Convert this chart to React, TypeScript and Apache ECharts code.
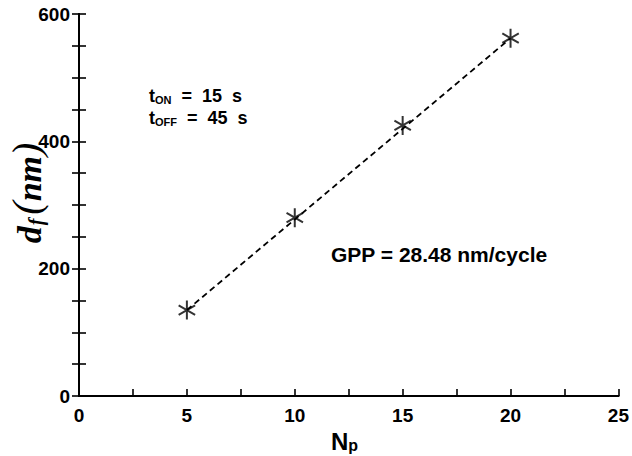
import React, { useEffect, useRef } from "react";
import * as echarts from "echarts";

const npValues = [5, 10, 15, 20];
const dfValues = [135, 280, 425, 562];
const fitNp = [5, 20];
const fitDf = [135, 562];
const xTicks = { min: 0, max: 25, interval: 5 };
const yTicks = { min: 0, max: 600, interval: 200 };
const annotOn = ["t", "ON", "  =  15  s"];
const annotOff = ["t", "OFF", "  =  45  s"];
const gppText = "GPP = 28.48 nm/cycle";

const SANS = "'Liberation Sans', Arial, sans-serif";
const SERIF = "'Liberation Serif', 'Times New Roman', serif";
const STAR = "path://M9,0L9,18M1.2,4.5L16.8,13.5M1.2,13.5L16.8,4.5";

export default function App() {
  const ref = useRef<HTMLDivElement>(null);
  useEffect(() => {
    document.body.style.margin = "0";
    if (!ref.current) return;
    const chart = echarts.init(ref.current, undefined, { renderer: "svg" });
    const axisLine = { show: true, lineStyle: { color: "#000", width: 2 } };
    const tick = { show: true, inside: true, length: 7, lineStyle: { color: "#000", width: 1.6 } };
    const label = { color: "#000", fontFamily: SANS, fontWeight: "bold" as const, fontSize: 19 };
    const subRich = (big: number, small: number) => ({
      a: { fontFamily: SANS, fontWeight: "bold", fontSize: big, color: "#000", verticalAlign: "bottom" },
      b: { fontFamily: SANS, fontWeight: "bold", fontSize: small, color: "#000", verticalAlign: "bottom" },
    });
    chart.setOption({
      animation: false,
      backgroundColor: "#fff",
      grid: { left: 79, right: 12, top: 14, bottom: 60, containLabel: false },
      xAxis: [
        {
          type: "value",
          min: xTicks.min,
          max: xTicks.max,
          interval: xTicks.interval,
          axisLine,
          axisTick: tick,
          minorTick: { show: true, splitNumber: 2, length: 7, lineStyle: { color: "#000", width: 1.6 } },
          splitLine: { show: false },
          axisLabel: { ...label, margin: 10 },
        },
        {
          type: "value",
          position: "top",
          min: xTicks.min,
          max: xTicks.max,
          axisLine,
          axisTick: { show: false },
          axisLabel: { show: false },
          splitLine: { show: false },
        },
      ],
      yAxis: [
        {
          type: "value",
          min: yTicks.min,
          max: yTicks.max,
          interval: yTicks.interval,
          axisLine,
          axisTick: tick,
          minorTick: { show: true, splitNumber: 4, length: 7, lineStyle: { color: "#000", width: 1.6 } },
          splitLine: { show: false },
          axisLabel: { ...label, margin: 9 },
        },
        {
          type: "value",
          position: "right",
          min: yTicks.min,
          max: yTicks.max,
          interval: yTicks.interval,
          axisLine,
          axisTick: tick,
          minorTick: { show: true, splitNumber: 4, length: 7, lineStyle: { color: "#000", width: 1.6 } },
          splitLine: { show: false },
          axisLabel: { show: false },
        },
      ],
      series: [
        {
          type: "line",
          data: fitNp.map((x, i) => [x, fitDf[i]]),
          symbol: "none",
          lineStyle: { color: "#000", width: 1.8, type: [6, 4] },
          silent: true,
        },
        {
          type: "scatter",
          data: npValues.map((x, i) => [x, dfValues[i]]),
          symbol: STAR,
          symbolSize: 19,
          symbolKeepAspect: true,
          itemStyle: { color: "#000", borderColor: "#000", borderWidth: 2 },
        },
      ],
      graphic: [
        {
          type: "text",
          x: 26,
          y: 193,
          rotation: Math.PI / 2,
          style: {
            text: "{d|d}{f|f}{p|(}{n|nm}{p|)}",
            align: "center",
            verticalAlign: "middle",
            rich: {
              d: { fontFamily: SERIF, fontStyle: "italic", fontWeight: "bold", fontSize: 34, fill: "#000", verticalAlign: "bottom" },
              f: { fontFamily: SERIF, fontStyle: "italic", fontWeight: "bold", fontSize: 20, fill: "#000", verticalAlign: "bottom", padding: [0, 4, 0, 1] },
              p: { fontFamily: SERIF, fontStyle: "italic", fontSize: 40, fill: "#000", verticalAlign: "bottom" },
              n: { fontFamily: SERIF, fontStyle: "italic", fontWeight: "bold", fontSize: 34, fill: "#000", verticalAlign: "bottom" },
            },
          },
        },
        {
          type: "text",
          x: 149,
          y: 105,
          style: {
            text: `{a|${annotOn[0]}}{b|${annotOn[1]}}{a|${annotOn[2]}}`,
            verticalAlign: "bottom",
            rich: subRich(18, 11),
          },
        },
        {
          type: "text",
          x: 149,
          y: 127,
          style: {
            text: `{a|${annotOff[0]}}{b|${annotOff[1]}}{a|${annotOff[2]}}`,
            verticalAlign: "bottom",
            rich: subRich(18, 11),
          },
        },
        {
          type: "text",
          x: 331,
          y: 265,
          style: {
            text: gppText,
            verticalAlign: "bottom",
            fontFamily: SANS,
            fontWeight: "bold",
            fontSize: 21,
            fill: "#000",
          },
        },
        {
          type: "text",
          x: 331,
          y: 453,
          style: {
            text: "{a|N}{b|p}",
            verticalAlign: "bottom",
            rich: subRich(24, 16),
          },
        },
      ],
    });
    return () => chart.dispose();
  }, []);
  return <div ref={ref} style={{ width: 632, height: 456 }} />;
}
